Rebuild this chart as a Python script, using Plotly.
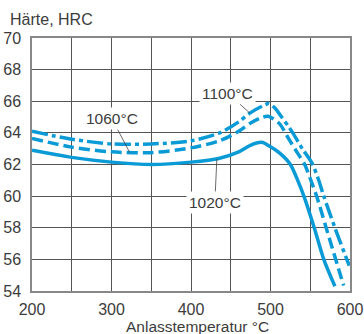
import plotly.graph_objects as go

# Anlasstemperatur (°C) and Härte (HRC) per Härtetemperatur
t_1020 = [200, 250, 300, 350, 400, 436, 460, 474, 489, 499, 512, 525, 535, 542, 555, 567, 581]
h_1020 = [62.9, 62.45, 62.15, 62.0, 62.15, 62.4, 62.8, 63.2, 63.4, 63.15, 62.7, 62.0, 60.9, 60.0, 58.0, 56.0, 54.3]

t_1060 = [200, 250, 300, 350, 400, 436, 460, 474, 488, 497, 511, 522, 533, 543, 550, 558, 570, 582, 592]
h_1060 = [63.65, 63.1, 62.8, 62.75, 63.05, 63.5, 64.1, 64.6, 64.95, 65.05, 64.6, 63.7, 62.8, 62.0, 61.1, 60.0, 58.0, 56.0, 54.35]

t_1100 = [200, 250, 300, 350, 400, 436, 460, 474, 490, 498, 505, 514, 522, 528, 540, 552, 560, 567, 581, 596, 599]
h_1100 = [64.1, 63.6, 63.3, 63.3, 63.5, 64.0, 64.7, 65.25, 65.7, 65.85, 65.6, 65.0, 64.45, 64.0, 63.0, 62.1, 61.1, 60.0, 58.0, 56.0, 55.6]

x_ticks = [200, 300, 400, 500, 600]
y_ticks = [54, 56, 58, 60, 62, 64, 66, 68, 70]

# labels: (text, label x, label y, tip x, tip y)
labels = [
    ("1060°C", 300.5, 64.9, 323, 62.75),
    ("1100°C", 446.5, 66.5, 474, 65.25),
    ("1020°C", 430, 59.6, 432.5, 62.35),
]

BLUE = "#0a9bd7"
TXT = "#3c3c3c"
FONT = "Liberation Sans, Arial, sans-serif"
FS = 16

fig = go.Figure()
fig.add_trace(go.Scatter(x=t_1020, y=h_1020, mode="lines",
                         line=dict(color=BLUE, width=3.5, shape="spline", smoothing=0.8)))
fig.add_trace(go.Scatter(x=t_1060, y=h_1060, mode="lines",
                         line=dict(color=BLUE, width=3.5, dash="11px,5px", shape="spline", smoothing=0.8)))
fig.add_trace(go.Scatter(x=t_1100, y=h_1100, mode="lines",
                         line=dict(color=BLUE, width=3.5, dash="16px,4px,4px,4px", shape="spline", smoothing=0.8)))

for text, lx, ly, tx, ty in labels:
    fig.add_annotation(x=tx, y=ty, ax=lx, ay=ly, axref="x", ayref="y", xref="x", yref="y",
                       text=text, showarrow=True, arrowhead=0, arrowwidth=0.8, arrowcolor="#444",
                       bgcolor="white", borderpad=2,
                       font=dict(family=FONT, size=15.5, color=TXT))

fig.add_annotation(xref="paper", yref="paper", x=-0.075, y=1.075, xanchor="left", yanchor="middle",
                   text="Härte, HRC", showarrow=False, font=dict(family=FONT, size=FS, color=TXT))
fig.add_annotation(xref="paper", yref="paper", x=0.519, y=-0.14, xanchor="center", yanchor="middle",
                   text="Anlasstemperatur °C", showarrow=False, font=dict(family=FONT, size=15.5, color=TXT))

fig.update_layout(
    width=364, height=334,
    margin=dict(l=32, r=14, t=38, b=43),
    paper_bgcolor="white", plot_bgcolor="white",
    showlegend=False,
    font=dict(family=FONT, size=FS, color=TXT),
)
fig.update_xaxes(range=[200, 600], tickvals=x_ticks, showgrid=True, gridcolor="#555", gridwidth=1,
                 minor=dict(dtick=50, tick0=200, showgrid=True, gridcolor="#555", gridwidth=1),
                 showline=True, linecolor="#888", linewidth=1.5, mirror=True, ticks="",
                 zeroline=False, automargin=False, ticklabelstandoff=3,
                 tickfont=dict(size=FS, color=TXT))
fig.update_yaxes(range=[54, 70], tickvals=y_ticks, showgrid=True, gridcolor="#555", gridwidth=1,
                 showline=True, linecolor="#888", linewidth=1.5, mirror=True, ticks="",
                 zeroline=False, automargin=False, ticklabelstandoff=6,
                 tickfont=dict(size=FS, color=TXT))

fig.write_html("out.html")
